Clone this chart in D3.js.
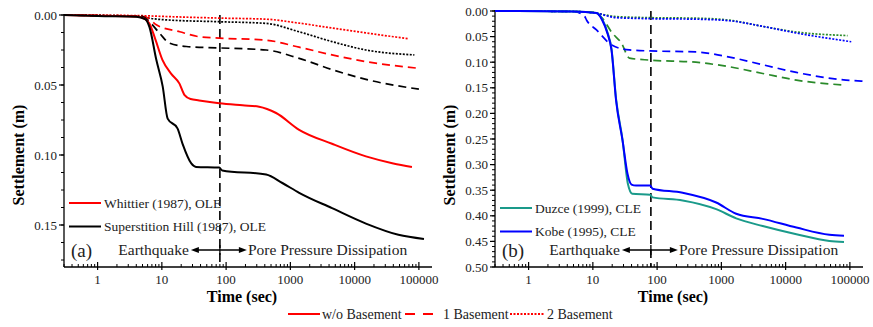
<!DOCTYPE html>
<html>
<head>
<meta charset="utf-8">
<script src="https://cdn.jsdelivr.net/npm/d3@7"></script>
<style>
body { margin: 0; background: #fff; }
</style>
</head>
<body>
<div id="viz"></div>
<script>
// ---- data : [time (sec), settlement (m)] ----
var whittier0 = [[0.3,0],[1,0.0005],[4,0.001],[5.5,0.003],[6.4,0.006],[8,0.018],[10.2,0.032],[14,0.042],[18.8,0.049],[22.4,0.057],[28,0.060],[38,0.061],[78,0.063],[180,0.0645],[326,0.0655],[600,0.070],[1370,0.082],[4450,0.092],[15000,0.101],[40000,0.106],[78000,0.1085]]
var whittier1 = [[0.3,0],[1,0.0003],[5,0.001],[6,0.002],[8.2,0.007],[19,0.012],[38,0.0155],[78,0.0165],[420,0.018],[1370,0.023],[4450,0.0285],[15000,0.0333],[95000,0.038]]
var whittier2 = [[0.3,0],[5,0.0005],[10,0.001],[78,0.0022],[420,0.003],[1370,0.0058],[4450,0.0093],[15000,0.0128],[70000,0.017]]
var superst0 = [[0.3,0],[1,0.0008],[4,0.0012],[5.5,0.003],[6.4,0.0085],[8.2,0.032],[10.3,0.051],[12.3,0.074],[17.5,0.081],[21,0.092],[28.7,0.106],[34,0.1085],[78,0.109],[87,0.111],[420,0.114],[750,0.120],[1370,0.127],[4450,0.138],[15000,0.149],[48000,0.157],[120000,0.160]]
var superst1 = [[0.3,0],[1,0.0005],[5,0.0012],[6,0.0035],[9.2,0.013],[13,0.020],[24,0.0225],[78,0.0235],[420,0.025],[1370,0.031],[4450,0.039],[15000,0.046],[100000,0.053]]
var superst2 = [[0.3,0],[5,0.001],[6,0.002],[12,0.0035],[78,0.0048],[420,0.006],[1370,0.012],[4450,0.019],[15000,0.025],[85000,0.0285]]

var kobe0 = [[0.3,0],[5,0.001],[11.4,0.004],[14,0.018],[16.9,0.044],[19.5,0.076],[23,0.175],[29,0.253],[34.6,0.318],[40,0.339],[47,0.341],[78,0.341],[85,0.347],[250,0.355],[830,0.374],[1700,0.396],[4400,0.406],[14700,0.423],[48000,0.437],[81000,0.439]]
var kobe1 = [[0.3,0],[5,0.001],[7.4,0.010],[8,0.018],[11.4,0.037],[20,0.067],[37,0.076],[78,0.078],[400,0.080],[1340,0.090],[4400,0.105],[14700,0.120],[87000,0.135],[158000,0.137]]
var kobe2 = [[0.3,0],[5,0.001],[11,0.004],[23,0.013],[78,0.015],[400,0.016],[1340,0.019],[4400,0.030],[14700,0.043],[105000,0.060]]
var duzce0 = [[0.3,0],[5,0.001],[11.4,0.004],[14,0.016],[16.9,0.042],[19.5,0.074],[23,0.172],[29,0.252],[35,0.337],[41,0.357],[78,0.359],[85,0.364],[250,0.370],[830,0.387],[1700,0.405],[4400,0.420],[14700,0.436],[48000,0.449],[81000,0.451]]
var duzce1 = [[0.3,0],[5,0.001],[9.9,0.002],[14,0.014],[20,0.043],[28,0.063],[37,0.092],[78,0.096],[400,0.100],[1340,0.109],[4400,0.122],[14700,0.135],[87000,0.145]]
var duzce2 = [[0.3,0],[5,0.001],[11,0.004],[23,0.011],[78,0.013],[400,0.014],[1340,0.018],[4400,0.030],[14700,0.041],[92000,0.048]]

var xTicks = [1, 10, 100, 1000, 10000, 100000]
var yTicksA = [0, 0.05, 0.10, 0.15]
var yTicksB = [0, 0.05, 0.10, 0.15, 0.20, 0.25, 0.30, 0.35, 0.40, 0.45, 0.50]
var tSplit = 80   // end of shaking

var red = "#ff0000", black = "#000000", blue = "#0000ff", teal = "#1a9a8a", green = "#2a8a2a"
var dashes = { none: null, one: "8,5", two: "2,1.5" }
var serif = "'Liberation Serif', 'Times New Roman', 'DejaVu Serif', serif"

var svg = d3.select("#viz").append("svg")
  .attr("width", 873)
  .attr("height", 327)
  .attr("font-family", serif)
  .style("font-family", serif)

function panel(opt) {
  var x = d3.scaleLog().domain([0.3, 160000]).range([opt.x0, opt.x0 + 368])
  var y = d3.scaleLinear().domain([0, opt.ymax]).range([opt.y0, 267])
  var g = svg.append("g")

  // x axis (log, with minor ticks pointing inside)
  var minors = []
  for (var e = -1; e <= 5; e++) {
    for (var m = 2; m <= 9; m++) {
      var v = m * Math.pow(10, e)
      if (v >= 0.3 && v <= 160000) minors.push(v)
    }
  }
  var xa = g.append("g").attr("transform", "translate(0,267)")
  xa.append("line").attr("x1", x.range()[0]).attr("x2", x.range()[1]).attr("stroke", "#000").attr("stroke-width", 1.3)
  xa.selectAll(".mi").data(minors).enter().append("line")
    .attr("x1", d => x(d)).attr("x2", d => x(d)).attr("y1", 0).attr("y2", -3)
    .attr("stroke", "#000").attr("stroke-width", 1)
  xa.selectAll(".ma").data(xTicks).enter().append("line")
    .attr("x1", d => x(d)).attr("x2", d => x(d)).attr("y1", 3).attr("y2", -5)
    .attr("stroke", "#000").attr("stroke-width", 1.2)
  xa.selectAll("text").data(xTicks).enter().append("text")
    .attr("x", d => x(d)).attr("y", 17)
    .attr("text-anchor", "middle").style("font-size", "13px").attr("fill", "#222")
    .text(d => d)

  // y axis
  var ya = g.append("g").attr("transform", "translate(" + opt.x0 + ",0)")
  ya.append("line").attr("y1", y(0) - 1).attr("y2", 267).attr("stroke", "#000").attr("stroke-width", 1.3)
  var ym = d3.range(0, opt.ymax + 1e-9, opt.minor)
  ya.selectAll(".mi").data(ym).enter().append("line")
    .attr("y1", d => y(d)).attr("y2", d => y(d)).attr("x1", 0).attr("x2", -3)
    .attr("stroke", "#000").attr("stroke-width", 1)
  ya.selectAll(".ma").data(opt.yTicks).enter().append("line")
    .attr("y1", d => y(d)).attr("y2", d => y(d)).attr("x1", 0).attr("x2", -5)
    .attr("stroke", "#000").attr("stroke-width", 1.2)
  ya.selectAll("text").data(opt.yTicks).enter().append("text")
    .attr("x", -7).attr("y", d => y(d) + 4.5)
    .attr("text-anchor", "end").style("font-size", "13px").attr("fill", "#222")
    .text(d => d3.format(".2f")(d))

  // axis titles
  g.append("text")
    .attr("x", (x.range()[0] + x.range()[1]) / 2 - 6).attr("y", 302)
    .attr("text-anchor", "middle").style("font-size", "16px").style("font-weight", "bold")
    .text("Time (sec)")
  g.append("text")
    .attr("transform", "translate(" + (opt.x0 - 40) + ",155) rotate(-90)")
    .attr("text-anchor", "middle").style("font-size", "16px").style("font-weight", "bold")
    .text("Settlement (m)")

  // vertical split line
  g.append("line")
    .attr("x1", x(tSplit)).attr("x2", x(tSplit)).attr("y1", y(0)).attr("y2", 267)
    .attr("stroke", "#000").attr("stroke-width", 1.6).attr("stroke-dasharray", "9,5")

  // curves
  var line = d3.line()
    .x(d => x(d[0]))
    .y(d => y(d[1]))
    .curve(d3.curveMonotoneX)
  opt.series.forEach(function(s) {
    g.append("path")
      .datum(s.data)
      .attr("d", line)
      .attr("fill", "none")
      .attr("stroke", s.color)
      .attr("stroke-width", s.dash ? 1.7 : 2)
      .attr("stroke-dasharray", s.dash)
  })

  // inner legend
  opt.legend.forEach(function(l, i) {
    var ly = opt.legY + i * 23.5
    g.append("line").attr("x1", opt.x0 + 5).attr("x2", opt.x0 + 37).attr("y1", ly).attr("y2", ly)
      .attr("stroke", l.color).attr("stroke-width", 2)
    g.append("text").attr("x", opt.x0 + 40).attr("y", ly + 4.5).style("font-size", "13.5px").attr("fill", "#222").text(l.name)
  })

  // label + earthquake / dissipation annotation
  g.append("text").attr("x", opt.x0 + 7).attr("y", 257).style("font-size", "19px").attr("fill", "#222").text(opt.tag)
  var xs = x(tSplit), ay = 250
  g.append("text").attr("x", xs - 31).attr("y", ay + 5).attr("text-anchor", "end").style("font-size", "15.5px").attr("fill", "#222").text("Earthquake")
  g.append("text").attr("x", xs + 28).attr("y", ay + 5).style("font-size", "15.5px").attr("fill", "#222").text("Pore Pressure Dissipation")
  g.append("line").attr("x1", xs - 22).attr("x2", xs + 20).attr("y1", ay).attr("y2", ay).attr("stroke", "#000").attr("stroke-width", 1.3)
  g.append("line").attr("x1", xs).attr("x2", xs).attr("y1", ay - 5).attr("y2", ay + 5).attr("stroke", "#000").attr("stroke-width", 1.3)
  g.append("path").attr("d", "M" + (xs - 29) + "," + ay + "l8,-3l0,6z").attr("fill", "#000")
  g.append("path").attr("d", "M" + (xs + 27) + "," + ay + "l-8,-3l0,6z").attr("fill", "#000")
}

panel({
  x0: 64, y0: 15, ymax: 0.18, minor: 0.0125, yTicks: yTicksA, tag: "(a)", legY: 203,
  series: [
    { data: whittier2, color: red, dash: dashes.two },
    { data: superst2, color: black, dash: dashes.two },
    { data: whittier1, color: red, dash: dashes.one },
    { data: superst1, color: black, dash: dashes.one },
    { data: whittier0, color: red, dash: dashes.none },
    { data: superst0, color: black, dash: dashes.none }
  ],
  legend: [{ name: "Whittier (1987), OLE", color: red }, { name: "Superstition Hill (1987), OLE", color: black }]
})

panel({
  x0: 495, y0: 11, ymax: 0.5, minor: 0.01, yTicks: yTicksB, tag: "(b)", legY: 208,
  series: [
    { data: duzce2, color: green, dash: dashes.two },
    { data: kobe2, color: blue, dash: dashes.two },
    { data: duzce1, color: green, dash: dashes.one },
    { data: kobe1, color: blue, dash: dashes.one },
    { data: duzce0, color: teal, dash: dashes.none },
    { data: kobe0, color: blue, dash: dashes.none }
  ],
  legend: [{ name: "Duzce (1999), CLE", color: teal }, { name: "Kobe (1995), CLE", color: blue }]
})

// bottom legend (line style)
var bl = svg.append("g").attr("transform", "translate(0,314)")
var styles = [
  { name: "w/o Basement", dash: dashes.none, x1: 288, x2: 320, gap: 2 },
  { name: "1 Basement", dash: "10,8", x1: 405, x2: 437, gap: 6 },
  { name: "2 Basement", dash: dashes.two, x1: 510, x2: 545, gap: 2 }
]
styles.forEach(function(s) {
  bl.append("line").attr("x1", s.x1).attr("x2", s.x2).attr("y1", 0).attr("y2", 0)
    .attr("stroke", red).attr("stroke-width", 2).attr("stroke-dasharray", s.dash)
  bl.append("text").attr("x", s.x2 + s.gap).attr("y", 5).style("font-size", "14px").attr("fill", "#222").text(s.name)
})
</script>
</body>
</html>
